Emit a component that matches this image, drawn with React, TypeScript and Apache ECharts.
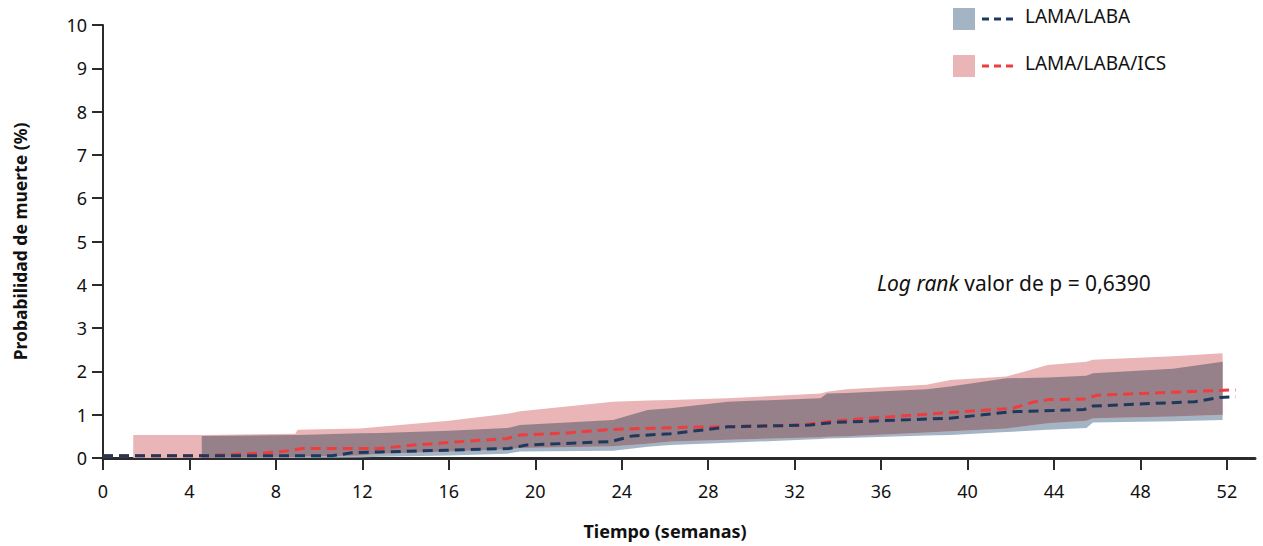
import React, { useEffect, useRef } from "react";
import * as echarts from "echarts";

// ---- data ----
const xTicks = [0, 4, 8, 12, 16, 20, 24, 28, 32, 36, 40, 44, 48, 52];
const yTicks = [0, 1, 2, 3, 4, 5, 6, 7, 8, 9, 10];

const seriesNames = ["LAMA/LABA", "LAMA/LABA/ICS"];

// confidence bands on a shared week grid
const bandWeeks = [1.4, 4.57, 8.9, 9.0, 11.9, 12.8, 16, 18.7, 19.3, 23.6, 25.2, 26.25, 28.9, 33.2, 33.5, 34.4, 38.1, 39.2, 41.8, 43.7, 45.5, 45.8, 49.5, 51.8];
const icsUpper = [0.53, 0.53, 0.56, 0.65, 0.68, 0.72, 0.86, 1.02, 1.08, 1.3, 1.33, 1.34, 1.38, 1.49, 1.53, 1.59, 1.69, 1.8, 1.88, 2.15, 2.22, 2.27, 2.35, 2.42];
const icsLower = [0, 0, 0.02, 0.03, 0.06, 0.1, 0.15, 0.2, 0.23, 0.27, 0.33, 0.38, 0.42, 0.48, 0.49, 0.5, 0.59, 0.62, 0.68, 0.8, 0.86, 0.92, 0.96, 1.0];
const labaUpper = [null, 0.51, 0.53, 0.53, 0.57, 0.58, 0.63, 0.69, 0.76, 0.88, 1.11, 1.15, 1.3, 1.38, 1.49, 1.5, 1.59, 1.65, 1.84, 1.86, 1.9, 1.96, 2.06, 2.22];
const labaLower = [null, 0, 0, 0, 0.01, 0.03, 0.06, 0.1, 0.15, 0.17, 0.26, 0.3, 0.35, 0.44, 0.45, 0.46, 0.52, 0.53, 0.6, 0.65, 0.69, 0.82, 0.85, 0.88];

// estimate lines (week, %)
const labaWeeks = [0, 10.6, 11.5, 12.8, 15.9, 18.8, 19.6, 23.5, 24.5, 26.25, 27.8, 28.9, 32.7, 33.8, 39.2, 42.1, 45.4, 45.8, 50.5, 51.7, 52.4];
const labaValues = [0.05, 0.05, 0.12, 0.14, 0.18, 0.22, 0.3, 0.38, 0.51, 0.56, 0.65, 0.72, 0.76, 0.82, 0.92, 1.07, 1.12, 1.2, 1.3, 1.4, 1.41];
const icsWeeks = [0, 4.5, 6, 7.5, 8.5, 9.2, 12.8, 14.4, 16, 18.7, 19.3, 21.5, 23.6, 26.25, 32.3, 33.5, 35, 39.2, 42.1, 43.1, 43.8, 45.4, 46, 52.2, 52.4];
const icsValues = [0.05, 0.05, 0.08, 0.12, 0.16, 0.22, 0.22, 0.3, 0.36, 0.45, 0.53, 0.58, 0.66, 0.7, 0.76, 0.84, 0.9, 1.05, 1.15, 1.3, 1.35, 1.36, 1.45, 1.57, 1.57];

// ---- styles ----
const COL_LABA_BAND = "#a3b5c5";
const COL_ICS_BAND = "#e9b5b6";
const COL_OVERLAP = "#96808a";
const COL_LABA_LINE = "#1d3a5e";
const COL_ICS_LINE = "#ee3d3f";
const FONT = "'Noto Sans', 'Open Sans', sans-serif";

function bandPolygon(upper: (number | null)[], lower: (number | null)[]) {
  const idx = bandWeeks.map((_, i) => i).filter((i) => upper[i] != null && lower[i] != null);
  const top = idx.map((i) => [bandWeeks[i], upper[i] as number]);
  const bottom = idx.slice().reverse().map((i) => [bandWeeks[i], lower[i] as number]);
  return top.concat(bottom);
}

function overlapPolygon() {
  const idx = bandWeeks.map((_, i) => i).filter((i) => labaUpper[i] != null && icsUpper[i] != null);
  const top = idx.map((i) => [bandWeeks[i], Math.min(labaUpper[i] as number, icsUpper[i])]);
  const bottom = idx
    .slice()
    .reverse()
    .map((i) => [bandWeeks[i], Math.max(labaLower[i] as number, icsLower[i])]);
  return top.concat(bottom);
}

function polySeries(points: number[][], color: string, z: number) {
  return {
    type: "custom",
    silent: true,
    z,
    data: [[0, 0]],
    renderItem: (_params: any, api: any) => ({
      type: "polygon",
      shape: { points: points.map((p) => api.coord(p)) },
      style: { fill: color, stroke: "none" },
    }),
  };
}

export default function App() {
  const ref = useRef<HTMLDivElement>(null);
  useEffect(() => {
    if (!ref.current) return;
    const chart = echarts.init(ref.current, undefined, { renderer: "svg" });
    const legendItem = (i: number, y: number, band: string, line: string) => [
      { type: "rect", left: 953, top: y - 11, shape: { width: 22, height: 22 }, style: { fill: band } },
      {
        type: "line",
        shape: { x1: 982, y1: y, x2: 1017, y2: y },
        style: { stroke: line, lineWidth: 3, lineDash: [7, 5] },
      },
      {
        type: "text",
        left: 1025,
        top: y - 13,
        style: { text: seriesNames[i], font: `19px ${FONT}`, fill: "#111" },
      },
    ];
    chart.setOption({
      animation: false,
      backgroundColor: "#fff",
      grid: { left: 103, right: 8, top: 25, bottom: 88, containLabel: false, outerBoundsMode: "none" },
      xAxis: {
        type: "value",
        min: 0,
        max: 53.3,
        interval: 4,
        axisLine: { show: true, lineStyle: { color: "#2b2b2b", width: 3 } },
        axisTick: { show: true, length: 12, lineStyle: { color: "#2b2b2b", width: 2 }, customValues: xTicks },
        axisLabel: { customValues: xTicks, margin: 24, fontSize: 18, color: "#111", fontFamily: FONT },
        splitLine: { show: false },
      },
      yAxis: {
        type: "value",
        min: 0,
        max: 10,
        interval: 1,
        name: "Probabilidad de muerte (%)",
        nameLocation: "middle",
        nameGap: 74,
        nameTextStyle: { fontSize: 17.5, fontWeight: "bold", color: "#111", fontFamily: FONT },
        axisLine: { show: true, lineStyle: { color: "#2b2b2b", width: 2 } },
        axisTick: { show: true, length: 11, lineStyle: { color: "#2b2b2b", width: 2 }, customValues: yTicks },
        axisLabel: { margin: 16, fontSize: 18, color: "#111", fontFamily: FONT },
        splitLine: { show: false },
      },
      series: [
        polySeries(bandPolygon(labaUpper, labaLower), COL_LABA_BAND, 1),
        polySeries(bandPolygon(icsUpper, icsLower), COL_ICS_BAND, 2),
        polySeries(overlapPolygon(), COL_OVERLAP, 3),
        {
          type: "line",
          name: seriesNames[1],
          z: 4,
          showSymbol: false,
          data: icsWeeks.map((w, i) => [w, icsValues[i]]),
          lineStyle: { color: COL_ICS_LINE, width: 3, type: [10, 6] },
        },
        {
          type: "line",
          name: seriesNames[0],
          z: 5,
          showSymbol: false,
          data: labaWeeks.map((w, i) => [w, labaValues[i]]),
          lineStyle: { color: COL_LABA_LINE, width: 3, type: [10, 6] },
        },
      ],
      graphic: [
        ...legendItem(0, 19, COL_LABA_BAND, COL_LABA_LINE),
        ...legendItem(1, 66, COL_ICS_BAND, COL_ICS_LINE),
        {
          type: "text",
          x: 877,
          y: 283,
          style: {
            text: "{i|Log rank} valor de p = 0,6390",
            font: `21px ${FONT}`,
            fill: "#111",
            verticalAlign: "middle",
            rich: { i: { fontStyle: "italic", fontSize: 21, fontFamily: FONT, fill: "#111" } },
          },
        },
        {
          type: "text",
          x: 665,
          y: 531,
          style: {
            text: "Tiempo (semanas)",
            font: `bold 18px ${FONT}`,
            fill: "#111",
            align: "center",
            verticalAlign: "middle",
          },
        },
      ],
    });
    return () => chart.dispose();
  }, []);
  return (
    <div
      ref={ref}
      style={{ position: "absolute", left: 0, top: 0, width: 1263, height: 546 }}
    />
  );
}
